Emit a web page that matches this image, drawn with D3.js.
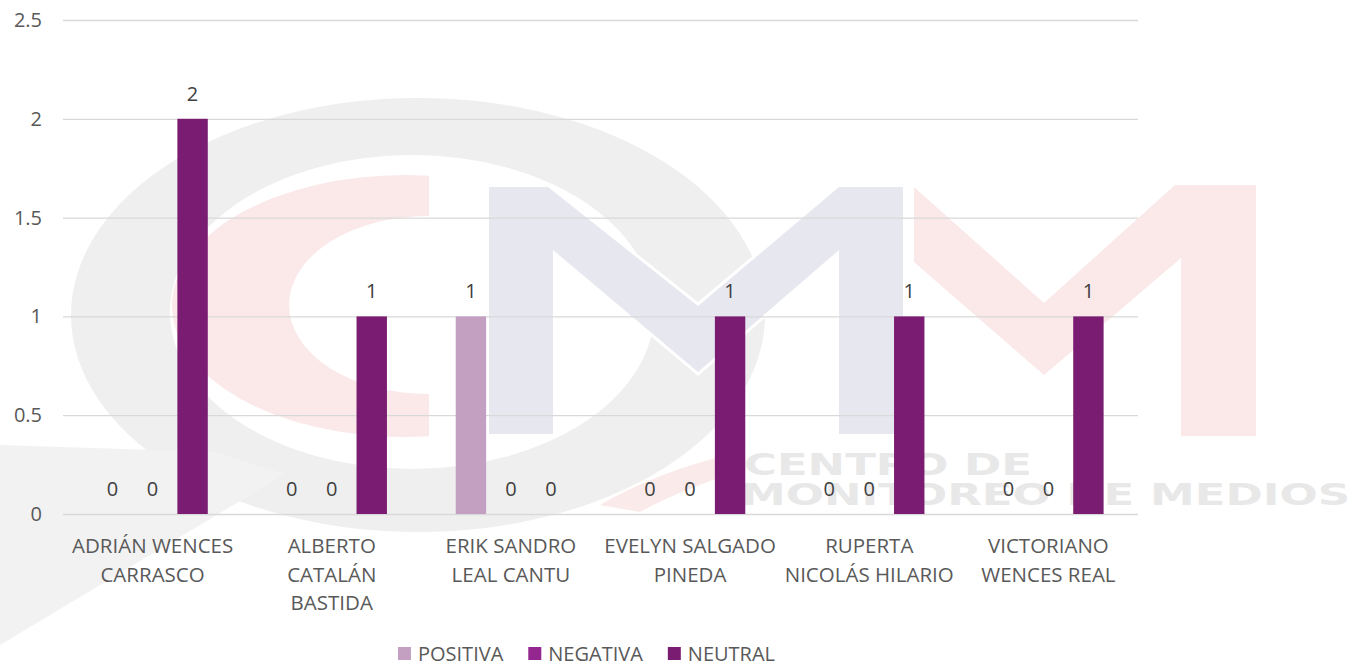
<!DOCTYPE html>
<html>
<head>
<meta charset="utf-8">
<script src="https://cdn.jsdelivr.net/npm/d3@7"></script>
<style>
  html, body { margin: 0; padding: 0; background: #ffffff; }
  svg { display: block; }
  text { font-family: "Open Sans", "Noto Sans", sans-serif; }
</style>
</head>
<body>
<svg id="chart" width="1351" height="666"></svg>
<script>
// ---- data ----
const categories = [
  "ADRIÁN WENCES CARRASCO",
  "ALBERTO CATALÁN BASTIDA",
  "ERIK SANDRO LEAL CANTU",
  "EVELYN SALGADO PINEDA",
  "RUPERTA NICOLÁS HILARIO",
  "VICTORIANO WENCES REAL"
];
const categoryLines = [
  ["ADRIÁN WENCES", "CARRASCO"],
  ["ALBERTO", "CATALÁN", "BASTIDA"],
  ["ERIK SANDRO", "LEAL CANTU"],
  ["EVELYN SALGADO", "PINEDA"],
  ["RUPERTA", "NICOLÁS HILARIO"],
  ["VICTORIANO", "WENCES REAL"]
];
const seriesNames = ["POSITIVA", "NEGATIVA", "NEUTRAL"];
const positiva = [0, 0, 1, 0, 0, 0];
const negativa = [0, 0, 0, 0, 0, 0];
const neutral  = [2, 1, 0, 1, 1, 1];
const seriesColors = ["#c39fc2", "#93278f", "#7a1c71"];
const yTicks = [0, 0.5, 1, 1.5, 2, 2.5];
const yTickLabels = ["0", "0.5", "1", "1.5", "2", "2.5"];

const seriesValues = [positiva, negativa, neutral];

// ---- layout ----
const svg = d3.select("#chart");
const left = 63, right = 1138;
const x0 = d3.scaleBand().domain(categories).range([left, right]).paddingInner(0).paddingOuter(0);
const x1 = d3.scaleBand().domain(seriesNames).range([0, x0.bandwidth()]).paddingInner(0.24).paddingOuter(0.86);
const y = d3.scaleLinear().domain([0, 2.5]).range([514, 20]);
const color = d3.scaleOrdinal().domain(seriesNames).range(seriesColors);

// ---- watermark (decorative background logo) ----
const wm = svg.append("g").attr("class", "watermark");
function ellipsePath(cx, cy, rx, ry) {
  return `M${cx - rx},${cy} a${rx},${ry} 0 1,0 ${2 * rx},0 a${rx},${ry} 0 1,0 ${-2 * rx},0 Z`;
}
// grey ring
wm.append("path")
  .attr("d", ellipsePath(418, 315, 347, 217) + " " + ellipsePath(412, 312, 242, 157))
  .attr("fill", "#efefef").attr("fill-rule", "evenodd");
// grey tail bottom-left
wm.append("path")
  .attr("d", "M0,445 L215,452 L285,474 L0,645 Z")
  .attr("fill", "#f2f2f2");
// pink C
const defs = svg.append("defs");
defs.append("clipPath").attr("id", "cclip").append("rect")
  .attr("x", 0).attr("y", 0).attr("width", 429).attr("height", 666);
wm.append("path")
  .attr("d", ellipsePath(405, 306, 233, 131) + " " + ellipsePath(428, 305, 139, 89))
  .attr("fill", "#fbe9e9").attr("fill-rule", "evenodd")
  .attr("clip-path", "url(#cclip)");
// pink swoosh bottom right of ring
wm.append("path")
  .attr("d", "M600,505 Q660,470 740,452 L742,470 Q680,490 640,512 Z")
  .attr("fill", "#fbeaea");
// lavender M
wm.append("path")
  .attr("d", "M489,434 L489,187 L548,187 L698,306 L839,187 L903,187 L903,434 L839,434 L839,250 L698,372 L553,250 L553,434 Z")
  .attr("fill", "#e7e7f0").attr("stroke", "#ffffff").attr("stroke-width", 6).attr("paint-order", "stroke");
// pink M
wm.append("path")
  .attr("d", "M914,187 L1044,303 L1175,185 L1256,185 L1256,436 L1181,436 L1181,258 L1044,375 L914,262 Z")
  .attr("fill", "#fbe8e8");
// watermark text
wm.append("text").attr("x", 744).attr("y", 475)
  .attr("textLength", 288).attr("lengthAdjust", "spacingAndGlyphs")
  .style("font-family", "'DejaVu Sans', sans-serif").style("font-weight", "bold")
  .style("font-size", "31px").attr("fill", "#e8e8e8").text("CENTRO DE");
wm.append("text").attr("x", 741).attr("y", 505)
  .attr("textLength", 609).attr("lengthAdjust", "spacingAndGlyphs")
  .style("font-family", "'DejaVu Sans', sans-serif").style("font-weight", "bold")
  .style("font-size", "31px").attr("fill", "#e8e8e8").text("MONITOREO DE MEDIOS");

// ---- y axis + gridlines ----
const yAxis = d3.axisLeft(y)
  .tickValues(yTicks)
  .tickFormat((d, i) => yTickLabels[i])
  .tickSize(-(right - left))
  .tickPadding(21);
const yg = svg.append("g").attr("transform", `translate(${left},0)`).call(yAxis);
yg.select(".domain").remove();
yg.selectAll(".tick line").attr("stroke", "#d9d9d9").attr("stroke-width", 1.3);
yg.selectAll(".tick text").attr("fill", "#595959").style("font-size", "20px")
  .style("font-family", "'Open Sans', sans-serif");

// ---- bars ----
const groups = svg.append("g").selectAll("g.cat")
  .data(categories)
  .join("g")
  .attr("class", "cat")
  .attr("transform", d => `translate(${x0(d)},0)`);

groups.selectAll("rect")
  .data((c, ci) => seriesNames.map((s, si) => ({ s, v: seriesValues[si][ci] })))
  .join("rect")
  .attr("x", d => x1(d.s))
  .attr("width", x1.bandwidth())
  .attr("y", d => y(d.v))
  .attr("height", d => y(0) - y(d.v))
  .attr("fill", d => color(d.s));

groups.selectAll("text.val")
  .data((c, ci) => seriesNames.map((s, si) => ({ s, v: seriesValues[si][ci] })))
  .join("text")
  .attr("class", "val")
  .attr("x", d => x1(d.s) + x1.bandwidth() / 2)
  .attr("y", d => y(d.v) - 18)
  .attr("text-anchor", "middle")
  .attr("fill", "#404040")
  .style("font-size", "20px")
  .text(d => d.v);

// ---- category labels ----
const catLabels = svg.append("g").selectAll("text.cat")
  .data(categories)
  .join("text")
  .attr("class", "cat")
  .attr("text-anchor", "middle")
  .attr("fill", "#595959")
  .style("font-size", "20.5px");
catLabels.each(function (d, i) {
  const t = d3.select(this);
  const cx = x0(d) + x0.bandwidth() / 2;
  categoryLines[i].forEach((line, li) => {
    t.append("tspan").attr("x", cx).attr("y", 553 + li * 28.5).text(line);
  });
});

// ---- legend ----
const legend = svg.append("g");
const items = legend.selectAll("g.item").data(seriesNames).join("g").attr("class", "item");
items.append("rect").attr("width", 13).attr("height", 13).attr("y", 647)
  .attr("fill", d => color(d));
items.append("text").attr("x", 20).attr("y", 660.5)
  .attr("fill", "#595959").style("font-size", "20px").text(d => d);
let offs = [], acc = 0;
items.each(function (d, i) {
  const w = 20 + d3.select(this).select("text").node().getComputedTextLength();
  offs.push(acc);
  acc += w + (i < seriesNames.length - 1 ? 25 : 0);
});
const legendStart = 586.5 - acc / 2;
items.attr("transform", (d, i) => `translate(${legendStart + offs[i]},0)`);
</script>
</body>
</html>
